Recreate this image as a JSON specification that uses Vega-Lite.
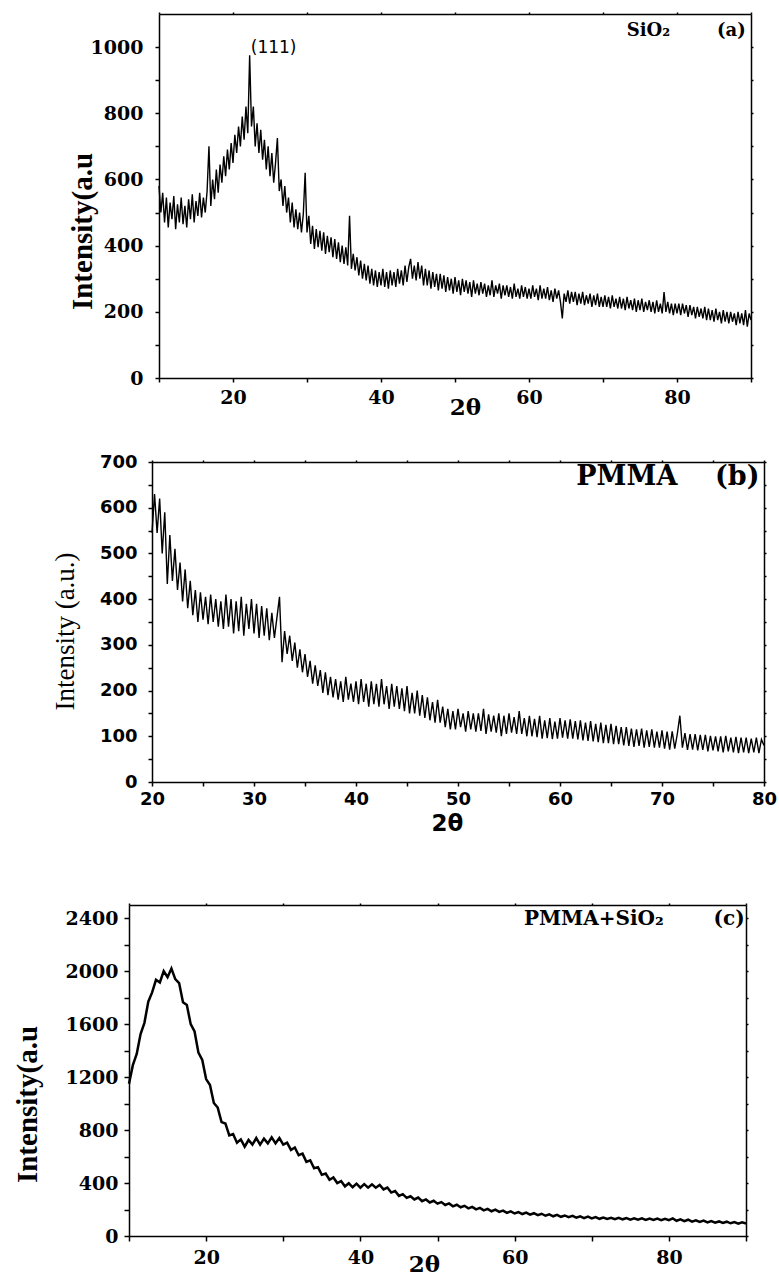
{
"$schema": "https://vega.github.io/schema/vega-lite/v6.json",
"padding": {"left": 0, "top": 11, "right": 0, "bottom": 0},
"background": "white",
"config": {
 "view": {"stroke": null},
 "axis": {"grid": false, "format": "d", "domainColor": "black", "domainWidth": 1.5, "tickColor": "black", "tickWidth": 1.5, "labelColor": "black", "titleColor": "black", "labelFlush": false, "labelOverlap": false, "labelBound": false}
},
"datasets": {
"a": [{"x":10,"y":580},{"x":10.25,"y":500},{"x":10.5,"y":560},{"x":10.75,"y":470},{"x":11,"y":545},{"x":11.25,"y":455},{"x":11.5,"y":530},{"x":11.75,"y":480},{"x":12,"y":550},{"x":12.25,"y":450},{"x":12.5,"y":525},{"x":12.75,"y":470},{"x":13,"y":545},{"x":13.25,"y":465},{"x":13.5,"y":520},{"x":13.75,"y":455},{"x":14,"y":540},{"x":14.25,"y":480},{"x":14.5,"y":555},{"x":14.75,"y":470},{"x":15,"y":535},{"x":15.25,"y":490},{"x":15.5,"y":560},{"x":15.75,"y":485},{"x":16,"y":545},{"x":16.25,"y":500},{"x":16.5,"y":565},{"x":16.75,"y":700},{"x":17,"y":520},{"x":17.25,"y":600},{"x":17.5,"y":540},{"x":17.75,"y":630},{"x":18,"y":560},{"x":18.25,"y":645},{"x":18.5,"y":590},{"x":18.75,"y":670},{"x":19,"y":610},{"x":19.25,"y":690},{"x":19.5,"y":630},{"x":19.75,"y":710},{"x":20,"y":650},{"x":20.25,"y":735},{"x":20.5,"y":680},{"x":20.75,"y":760},{"x":21,"y":700},{"x":21.25,"y":790},{"x":21.5,"y":720},{"x":21.75,"y":820},{"x":22,"y":740},{"x":22.25,"y":975},{"x":22.5,"y":760},{"x":22.75,"y":820},{"x":23,"y":700},{"x":23.25,"y":770},{"x":23.5,"y":680},{"x":23.75,"y":750},{"x":24,"y":660},{"x":24.25,"y":720},{"x":24.5,"y":630},{"x":24.75,"y":700},{"x":25,"y":610},{"x":25.25,"y":680},{"x":25.5,"y":590},{"x":25.75,"y":650},{"x":26,"y":725},{"x":26.25,"y":565},{"x":26.5,"y":600},{"x":26.75,"y":520},{"x":27,"y":580},{"x":27.25,"y":500},{"x":27.5,"y":545},{"x":27.75,"y":470},{"x":28,"y":530},{"x":28.25,"y":455},{"x":28.5,"y":510},{"x":28.75,"y":450},{"x":29,"y":500},{"x":29.25,"y":440},{"x":29.5,"y":495},{"x":29.75,"y":620},{"x":30,"y":440},{"x":30.25,"y":490},{"x":30.5,"y":405},{"x":30.75,"y":460},{"x":31,"y":390},{"x":31.25,"y":450},{"x":31.5,"y":395},{"x":31.75,"y":445},{"x":32,"y":385},{"x":32.25,"y":440},{"x":32.5,"y":375},{"x":32.75,"y":430},{"x":33,"y":380},{"x":33.25,"y":425},{"x":33.5,"y":365},{"x":33.75,"y":420},{"x":34,"y":360},{"x":34.25,"y":410},{"x":34.5,"y":350},{"x":34.75,"y":400},{"x":35,"y":345},{"x":35.25,"y":395},{"x":35.5,"y":340},{"x":35.75,"y":490},{"x":36,"y":330},{"x":36.25,"y":375},{"x":36.5,"y":325},{"x":36.75,"y":365},{"x":37,"y":310},{"x":37.25,"y":355},{"x":37.5,"y":300},{"x":37.75,"y":345},{"x":38,"y":295},{"x":38.25,"y":340},{"x":38.5,"y":285},{"x":38.75,"y":330},{"x":39,"y":280},{"x":39.25,"y":325},{"x":39.5,"y":275},{"x":39.75,"y":320},{"x":40,"y":280},{"x":40.25,"y":330},{"x":40.5,"y":275},{"x":40.75,"y":320},{"x":41,"y":270},{"x":41.25,"y":325},{"x":41.5,"y":280},{"x":41.75,"y":320},{"x":42,"y":275},{"x":42.25,"y":330},{"x":42.5,"y":285},{"x":42.75,"y":325},{"x":43,"y":280},{"x":43.25,"y":340},{"x":43.5,"y":290},{"x":43.75,"y":335},{"x":44,"y":360},{"x":44.25,"y":300},{"x":44.5,"y":340},{"x":44.75,"y":295},{"x":45,"y":350},{"x":45.25,"y":300},{"x":45.5,"y":340},{"x":45.75,"y":280},{"x":46,"y":330},{"x":46.25,"y":280},{"x":46.5,"y":325},{"x":46.75,"y":270},{"x":47,"y":320},{"x":47.25,"y":275},{"x":47.5,"y":315},{"x":47.75,"y":265},{"x":48,"y":315},{"x":48.25,"y":270},{"x":48.5,"y":310},{"x":48.75,"y":260},{"x":49,"y":305},{"x":49.25,"y":265},{"x":49.5,"y":300},{"x":49.75,"y":255},{"x":50,"y":305},{"x":50.25,"y":260},{"x":50.5,"y":295},{"x":50.75,"y":250},{"x":51,"y":300},{"x":51.25,"y":260},{"x":51.5,"y":295},{"x":51.75,"y":255},{"x":52,"y":290},{"x":52.25,"y":245},{"x":52.5,"y":295},{"x":52.75,"y":255},{"x":53,"y":285},{"x":53.25,"y":250},{"x":53.5,"y":290},{"x":53.75,"y":255},{"x":54,"y":285},{"x":54.25,"y":245},{"x":54.5,"y":280},{"x":54.75,"y":250},{"x":55,"y":295},{"x":55.25,"y":245},{"x":55.5,"y":280},{"x":55.75,"y":255},{"x":56,"y":285},{"x":56.25,"y":240},{"x":56.5,"y":280},{"x":56.75,"y":250},{"x":57,"y":280},{"x":57.25,"y":245},{"x":57.5,"y":275},{"x":57.75,"y":240},{"x":58,"y":285},{"x":58.25,"y":245},{"x":58.5,"y":270},{"x":58.75,"y":240},{"x":59,"y":280},{"x":59.25,"y":245},{"x":59.5,"y":275},{"x":59.75,"y":240},{"x":60,"y":270},{"x":60.25,"y":240},{"x":60.5,"y":280},{"x":60.75,"y":245},{"x":61,"y":270},{"x":61.25,"y":235},{"x":61.5,"y":280},{"x":61.75,"y":240},{"x":62,"y":270},{"x":62.25,"y":240},{"x":62.5,"y":275},{"x":62.75,"y":235},{"x":63,"y":265},{"x":63.25,"y":230},{"x":63.5,"y":270},{"x":63.75,"y":240},{"x":64,"y":265},{"x":64.25,"y":230},{"x":64.5,"y":180},{"x":64.75,"y":255},{"x":65,"y":230},{"x":65.25,"y":265},{"x":65.5,"y":225},{"x":65.75,"y":260},{"x":66,"y":230},{"x":66.25,"y":260},{"x":66.5,"y":220},{"x":66.75,"y":255},{"x":67,"y":225},{"x":67.25,"y":260},{"x":67.5,"y":220},{"x":67.75,"y":250},{"x":68,"y":225},{"x":68.25,"y":255},{"x":68.5,"y":215},{"x":68.75,"y":250},{"x":69,"y":220},{"x":69.25,"y":255},{"x":69.5,"y":215},{"x":69.75,"y":245},{"x":70,"y":215},{"x":70.25,"y":250},{"x":70.5,"y":215},{"x":70.75,"y":245},{"x":71,"y":210},{"x":71.25,"y":250},{"x":71.5,"y":215},{"x":71.75,"y":240},{"x":72,"y":210},{"x":72.25,"y":245},{"x":72.5,"y":210},{"x":72.75,"y":240},{"x":73,"y":205},{"x":73.25,"y":245},{"x":73.5,"y":210},{"x":73.75,"y":235},{"x":74,"y":205},{"x":74.25,"y":240},{"x":74.5,"y":200},{"x":74.75,"y":235},{"x":75,"y":205},{"x":75.25,"y":240},{"x":75.5,"y":200},{"x":75.75,"y":230},{"x":76,"y":205},{"x":76.25,"y":235},{"x":76.5,"y":200},{"x":76.75,"y":230},{"x":77,"y":195},{"x":77.25,"y":235},{"x":77.5,"y":200},{"x":77.75,"y":225},{"x":78,"y":195},{"x":78.25,"y":260},{"x":78.5,"y":200},{"x":78.75,"y":230},{"x":79,"y":195},{"x":79.25,"y":225},{"x":79.5,"y":190},{"x":79.75,"y":225},{"x":80,"y":195},{"x":80.25,"y":225},{"x":80.5,"y":190},{"x":80.75,"y":225},{"x":81,"y":195},{"x":81.25,"y":220},{"x":81.5,"y":185},{"x":81.75,"y":220},{"x":82,"y":190},{"x":82.25,"y":215},{"x":82.5,"y":180},{"x":82.75,"y":215},{"x":83,"y":185},{"x":83.25,"y":210},{"x":83.5,"y":180},{"x":83.75,"y":215},{"x":84,"y":175},{"x":84.25,"y":210},{"x":84.5,"y":175},{"x":84.75,"y":205},{"x":85,"y":170},{"x":85.25,"y":210},{"x":85.5,"y":175},{"x":85.75,"y":200},{"x":86,"y":165},{"x":86.25,"y":205},{"x":86.5,"y":170},{"x":86.75,"y":200},{"x":87,"y":165},{"x":87.25,"y":200},{"x":87.5,"y":170},{"x":87.75,"y":195},{"x":88,"y":160},{"x":88.25,"y":200},{"x":88.5,"y":165},{"x":88.75,"y":195},{"x":89,"y":160},{"x":89.25,"y":205},{"x":89.5,"y":155},{"x":89.75,"y":195},{"x":90,"y":175}],
"b": [{"x":20,"y":545},{"x":20.25,"y":630},{"x":20.5,"y":545},{"x":20.75,"y":620},{"x":21,"y":500},{"x":21.25,"y":590},{"x":21.5,"y":433},{"x":21.75,"y":540},{"x":22,"y":440},{"x":22.25,"y":510},{"x":22.5,"y":420},{"x":22.75,"y":480},{"x":23,"y":395},{"x":23.25,"y":465},{"x":23.5,"y":380},{"x":23.75,"y":440},{"x":24,"y":365},{"x":24.25,"y":420},{"x":24.5,"y":350},{"x":24.75,"y":415},{"x":25,"y":355},{"x":25.25,"y":405},{"x":25.5,"y":345},{"x":25.75,"y":410},{"x":26,"y":350},{"x":26.25,"y":400},{"x":26.5,"y":340},{"x":26.75,"y":395},{"x":27,"y":335},{"x":27.25,"y":410},{"x":27.5,"y":340},{"x":27.75,"y":400},{"x":28,"y":325},{"x":28.25,"y":395},{"x":28.5,"y":330},{"x":28.75,"y":405},{"x":29,"y":320},{"x":29.25,"y":390},{"x":29.5,"y":335},{"x":29.75,"y":400},{"x":30,"y":325},{"x":30.25,"y":390},{"x":30.5,"y":315},{"x":30.75,"y":385},{"x":31,"y":320},{"x":31.25,"y":380},{"x":31.5,"y":310},{"x":31.75,"y":370},{"x":32,"y":315},{"x":32.25,"y":360},{"x":32.5,"y":405},{"x":32.75,"y":262},{"x":33,"y":330},{"x":33.25,"y":280},{"x":33.5,"y":320},{"x":33.75,"y":265},{"x":34,"y":305},{"x":34.25,"y":250},{"x":34.5,"y":290},{"x":34.75,"y":240},{"x":35,"y":280},{"x":35.25,"y":230},{"x":35.5,"y":265},{"x":35.75,"y":215},{"x":36,"y":255},{"x":36.25,"y":210},{"x":36.5,"y":245},{"x":36.75,"y":195},{"x":37,"y":240},{"x":37.25,"y":190},{"x":37.5,"y":230},{"x":37.75,"y":185},{"x":38,"y":225},{"x":38.25,"y":180},{"x":38.5,"y":220},{"x":38.75,"y":175},{"x":39,"y":230},{"x":39.25,"y":180},{"x":39.5,"y":215},{"x":39.75,"y":175},{"x":40,"y":220},{"x":40.25,"y":170},{"x":40.5,"y":225},{"x":40.75,"y":175},{"x":41,"y":215},{"x":41.25,"y":165},{"x":41.5,"y":220},{"x":41.75,"y":170},{"x":42,"y":215},{"x":42.25,"y":165},{"x":42.5,"y":225},{"x":42.75,"y":170},{"x":43,"y":210},{"x":43.25,"y":160},{"x":43.5,"y":215},{"x":43.75,"y":165},{"x":44,"y":210},{"x":44.25,"y":160},{"x":44.5,"y":205},{"x":44.75,"y":155},{"x":45,"y":210},{"x":45.25,"y":150},{"x":45.5,"y":195},{"x":45.75,"y":150},{"x":46,"y":200},{"x":46.25,"y":145},{"x":46.5,"y":190},{"x":46.75,"y":140},{"x":47,"y":185},{"x":47.25,"y":135},{"x":47.5,"y":175},{"x":47.75,"y":130},{"x":48,"y":180},{"x":48.25,"y":130},{"x":48.5,"y":165},{"x":48.75,"y":120},{"x":49,"y":160},{"x":49.25,"y":115},{"x":49.5,"y":155},{"x":49.75,"y":115},{"x":50,"y":160},{"x":50.25,"y":120},{"x":50.5,"y":150},{"x":50.75,"y":110},{"x":51,"y":155},{"x":51.25,"y":115},{"x":51.5,"y":150},{"x":51.75,"y":110},{"x":52,"y":150},{"x":52.25,"y":112},{"x":52.5,"y":160},{"x":52.75,"y":105},{"x":53,"y":148},{"x":53.25,"y":110},{"x":53.5,"y":145},{"x":53.75,"y":108},{"x":54,"y":150},{"x":54.25,"y":100},{"x":54.5,"y":145},{"x":54.75,"y":105},{"x":55,"y":150},{"x":55.25,"y":108},{"x":55.5,"y":142},{"x":55.75,"y":105},{"x":56,"y":155},{"x":56.25,"y":105},{"x":56.5,"y":140},{"x":56.75,"y":100},{"x":57,"y":145},{"x":57.25,"y":100},{"x":57.5,"y":138},{"x":57.75,"y":98},{"x":58,"y":145},{"x":58.25,"y":95},{"x":58.5,"y":135},{"x":58.75,"y":96},{"x":59,"y":140},{"x":59.25,"y":94},{"x":59.5,"y":132},{"x":59.75,"y":95},{"x":60,"y":140},{"x":60.25,"y":97},{"x":60.5,"y":135},{"x":60.75,"y":95},{"x":61,"y":137},{"x":61.25,"y":95},{"x":61.5,"y":133},{"x":61.75,"y":93},{"x":62,"y":135},{"x":62.25,"y":91},{"x":62.5,"y":130},{"x":62.75,"y":90},{"x":63,"y":133},{"x":63.25,"y":89},{"x":63.5,"y":127},{"x":63.75,"y":87},{"x":64,"y":130},{"x":64.25,"y":85},{"x":64.5,"y":125},{"x":64.75,"y":85},{"x":65,"y":127},{"x":65.25,"y":83},{"x":65.5,"y":123},{"x":65.75,"y":83},{"x":66,"y":120},{"x":66.25,"y":80},{"x":66.5,"y":120},{"x":66.75,"y":79},{"x":67,"y":117},{"x":67.25,"y":77},{"x":67.5,"y":115},{"x":67.75,"y":79},{"x":68,"y":117},{"x":68.25,"y":75},{"x":68.5,"y":113},{"x":68.75,"y":77},{"x":69,"y":115},{"x":69.25,"y":75},{"x":69.5,"y":110},{"x":69.75,"y":75},{"x":70,"y":113},{"x":70.25,"y":73},{"x":70.5,"y":110},{"x":70.75,"y":71},{"x":71,"y":111},{"x":71.25,"y":73},{"x":71.5,"y":105},{"x":71.75,"y":145},{"x":72,"y":75},{"x":72.25,"y":107},{"x":72.5,"y":70},{"x":72.75,"y":105},{"x":73,"y":71},{"x":73.25,"y":105},{"x":73.5,"y":69},{"x":73.75,"y":103},{"x":74,"y":70},{"x":74.25,"y":103},{"x":74.5,"y":67},{"x":74.75,"y":101},{"x":75,"y":69},{"x":75.25,"y":100},{"x":75.5,"y":67},{"x":75.75,"y":100},{"x":76,"y":65},{"x":76.25,"y":101},{"x":76.5,"y":67},{"x":76.75,"y":97},{"x":77,"y":65},{"x":77.25,"y":99},{"x":77.5,"y":63},{"x":77.75,"y":97},{"x":78,"y":65},{"x":78.25,"y":97},{"x":78.5,"y":63},{"x":78.75,"y":95},{"x":79,"y":65},{"x":79.25,"y":97},{"x":79.5,"y":63},{"x":79.75,"y":93},{"x":80,"y":80}],
"c": [{"x":10,"y":1150},{"x":10.5,"y":1290},{"x":11,"y":1375},{"x":11.5,"y":1525},{"x":12,"y":1610},{"x":12.5,"y":1770},{"x":13,"y":1840},{"x":13.5,"y":1935},{"x":14,"y":1915},{"x":14.5,"y":2000},{"x":15,"y":1955},{"x":15.5,"y":2020},{"x":16,"y":1940},{"x":16.5,"y":1910},{"x":17,"y":1765},{"x":17.5,"y":1745},{"x":18,"y":1600},{"x":18.5,"y":1545},{"x":19,"y":1385},{"x":19.5,"y":1330},{"x":20,"y":1185},{"x":20.5,"y":1140},{"x":21,"y":1005},{"x":21.5,"y":970},{"x":22,"y":860},{"x":22.5,"y":850},{"x":23,"y":760},{"x":23.5,"y":770},{"x":24,"y":705},{"x":24.5,"y":730},{"x":25,"y":675},{"x":25.5,"y":725},{"x":26,"y":690},{"x":26.5,"y":740},{"x":27,"y":690},{"x":27.5,"y":735},{"x":28,"y":700},{"x":28.5,"y":745},{"x":29,"y":700},{"x":29.5,"y":740},{"x":30,"y":690},{"x":30.5,"y":705},{"x":31,"y":650},{"x":31.5,"y":668},{"x":32,"y":610},{"x":32.5,"y":622},{"x":33,"y":560},{"x":33.5,"y":572},{"x":34,"y":512},{"x":34.5,"y":520},{"x":35,"y":462},{"x":35.5,"y":472},{"x":36,"y":425},{"x":36.5,"y":442},{"x":37,"y":400},{"x":37.5,"y":415},{"x":38,"y":375},{"x":38.5,"y":398},{"x":39,"y":368},{"x":39.5,"y":395},{"x":40,"y":365},{"x":40.5,"y":392},{"x":41,"y":365},{"x":41.5,"y":390},{"x":42,"y":365},{"x":42.5,"y":385},{"x":43,"y":352},{"x":43.5,"y":366},{"x":44,"y":328},{"x":44.5,"y":340},{"x":45,"y":303},{"x":45.5,"y":316},{"x":46,"y":288},{"x":46.5,"y":300},{"x":47,"y":276},{"x":47.5,"y":290},{"x":48,"y":263},{"x":48.5,"y":276},{"x":49,"y":253},{"x":49.5,"y":266},{"x":50,"y":244},{"x":50.5,"y":256},{"x":51,"y":234},{"x":51.5,"y":246},{"x":52,"y":224},{"x":52.5,"y":236},{"x":53,"y":217},{"x":53.5,"y":228},{"x":54,"y":209},{"x":54.5,"y":220},{"x":55,"y":201},{"x":55.5,"y":212},{"x":56,"y":194},{"x":56.5,"y":205},{"x":57,"y":187},{"x":57.5,"y":199},{"x":58,"y":182},{"x":58.5,"y":192},{"x":59,"y":175},{"x":59.5,"y":186},{"x":60,"y":170},{"x":60.5,"y":181},{"x":61,"y":166},{"x":61.5,"y":177},{"x":62,"y":161},{"x":62.5,"y":172},{"x":63,"y":157},{"x":63.5,"y":168},{"x":64,"y":153},{"x":64.5,"y":163},{"x":65,"y":149},{"x":65.5,"y":160},{"x":66,"y":145},{"x":66.5,"y":155},{"x":67,"y":142},{"x":67.5,"y":152},{"x":68,"y":139},{"x":68.5,"y":149},{"x":69,"y":135},{"x":69.5,"y":146},{"x":70,"y":133},{"x":70.5,"y":143},{"x":71,"y":130},{"x":71.5,"y":140},{"x":72,"y":129},{"x":72.5,"y":138},{"x":73,"y":127},{"x":73.5,"y":137},{"x":74,"y":126},{"x":74.5,"y":135},{"x":75,"y":124},{"x":75.5,"y":134},{"x":76,"y":123},{"x":76.5,"y":133},{"x":77,"y":122},{"x":77.5,"y":132},{"x":78,"y":121},{"x":78.5,"y":131},{"x":79,"y":120},{"x":79.5,"y":130},{"x":80,"y":119},{"x":80.5,"y":133},{"x":81,"y":115},{"x":81.5,"y":126},{"x":82,"y":112},{"x":82.5,"y":123},{"x":83,"y":109},{"x":83.5,"y":119},{"x":84,"y":106},{"x":84.5,"y":116},{"x":85,"y":103},{"x":85.5,"y":113},{"x":86,"y":101},{"x":86.5,"y":110},{"x":87,"y":98},{"x":87.5,"y":108},{"x":88,"y":96},{"x":88.5,"y":105},{"x":89,"y":93},{"x":89.5,"y":103},{"x":90,"y":95}],
"ta": [{"x":73.2,"y":1050,"t":"SiO₂"},{"x":85.4,"y":1050,"t":"(a)"}],
"tp": [{"x":22.4,"y":997,"t":"(111)"}],
"tb": [{"x":61.6,"y":667,"t":"PMMA"},{"x":75.2,"y":667,"t":"(b)"}],
"tc": [{"x":61.2,"y":2392,"t":"PMMA+SiO₂"},{"x":85.8,"y":2392,"t":"(c)"}]
},
"spacing": 0,
"vconcat": [
 {"hconcat": [
   {"width": 159, "height": 439, "data": {"values": []}, "mark": "point"},
   {"width": 592, "height": 364,
    "resolve": {"axis": {"x": "independent", "y": "independent"}},
    "layer": [
     {"data": {"name": "a"}, "mark": {"type": "line", "color": "black", "strokeWidth": 1.4},
      "encoding": {
       "x": {"field": "x", "type": "quantitative", "scale": {"domain": [10, 90], "nice": false, "zero": false},
        "axis": {"orient": "bottom", "values": [10,20,30,40,50,60,70,80,90], "labelExpr": "datum.value % 20 == 0 ? datum.label : ''", "labelFont": "DejaVu Serif", "labelFontWeight": "bold", "labelFontSize": 19, "labelPadding": 6, "tickSize": 4, "title": "2θ", "titleFont": "DejaVu Serif", "titleFontWeight": "bold", "titleFontSize": 23, "titleX": 306, "titleY": 29, "titleAlign": "center", "titleBaseline": "middle"}},
       "y": {"field": "y", "type": "quantitative", "scale": {"domain": [0, 1100], "nice": false},
        "axis": {"orient": "left", "values": [0,100,200,300,400,500,600,700,800,900,1000], "labelExpr": "datum.value % 200 == 0 ? datum.label : ''", "labelFont": "DejaVu Serif", "labelFontWeight": "bold", "labelFontSize": 19, "labelPadding": 12, "tickSize": 4, "title": "Intensity(a.u", "titleFont": "Liberation Serif, Times New Roman, serif", "titleFontWeight": "bold", "titleFontSize": 29, "titleX": -77, "titleY": 217, "titleAlign": "center", "titleBaseline": "middle"}}
      }},
     {"data": {"name": "ta"}, "mark": {"type": "text", "font": "DejaVu Serif", "fontWeight": "bold", "fontSize": 18, "align": "left", "baseline": "middle", "color": "black"},
      "encoding": {
       "x": {"field": "x", "type": "quantitative", "scale": {"domain": [10, 90], "nice": false, "zero": false},
        "axis": {"orient": "top", "values": [10,20,30,40,50,60,70,80,90], "labels": false, "tickSize": 2, "title": null}},
       "y": {"field": "y", "type": "quantitative", "scale": {"domain": [0, 1100], "nice": false},
        "axis": {"orient": "right", "values": [0,100,200,300,400,500,600,700,800,900,1000], "labels": false, "tickSize": 2, "title": null}},
       "text": {"field": "t"}
      }},
     {"data": {"name": "tp"}, "mark": {"type": "text", "font": "DejaVu Sans", "fontSize": 17, "align": "left", "baseline": "middle", "color": "black"},
      "encoding": {
       "x": {"field": "x", "type": "quantitative", "axis": null},
       "y": {"field": "y", "type": "quantitative", "axis": null},
       "text": {"field": "t"}
      }}
    ]}
  ], "spacing": 0, "bounds": "flush"},
 {"hconcat": [
   {"width": 152, "height": 440, "data": {"values": []}, "mark": "point"},
   {"width": 612, "height": 320,
    "resolve": {"axis": {"x": "independent", "y": "independent"}},
    "layer": [
     {"data": {"name": "b"}, "mark": {"type": "line", "color": "black", "strokeWidth": 1.4},
      "encoding": {
       "x": {"field": "x", "type": "quantitative", "scale": {"domain": [20, 80], "nice": false, "zero": false},
        "axis": {"orient": "bottom", "values": [20,25,30,35,40,45,50,55,60,65,70,75,80], "labelExpr": "datum.value % 10 == 0 ? datum.label : ''", "labelFont": "DejaVu Sans", "labelFontWeight": "bold", "labelFontSize": 18, "labelPadding": 4, "tickSize": 4, "title": "2θ", "titleFont": "DejaVu Sans", "titleFontWeight": "bold", "titleFontSize": 23, "titleX": 295, "titleY": 41, "titleAlign": "center", "titleBaseline": "middle"}},
       "y": {"field": "y", "type": "quantitative", "scale": {"domain": [0, 700], "nice": false},
        "axis": {"orient": "left", "values": [0,50,100,150,200,250,300,350,400,450,500,550,600,650,700], "labelExpr": "datum.value % 100 == 0 ? datum.label : ''", "labelFont": "DejaVu Sans", "labelFontWeight": "bold", "labelFontSize": 18, "labelPadding": 11, "tickSize": 4, "title": "Intensity (a.u.)", "titleFont": "Liberation Serif, Times New Roman, serif", "titleFontWeight": "normal", "titleFontSize": 27, "titleX": -87, "titleY": 169, "titleAlign": "center", "titleBaseline": "middle"}}
      }},
     {"data": {"name": "tb"}, "mark": {"type": "text", "font": "DejaVu Serif", "fontWeight": "bold", "fontSize": 27, "align": "left", "baseline": "middle", "color": "black"},
      "encoding": {
       "x": {"field": "x", "type": "quantitative", "scale": {"domain": [20, 80], "nice": false, "zero": false},
        "axis": {"orient": "top", "values": [20,25,30,35,40,45,50,55,60,65,70,75,80], "labels": false, "tickSize": 2, "title": null}},
       "y": {"field": "y", "type": "quantitative", "scale": {"domain": [0, 700], "nice": false},
        "axis": {"orient": "right", "values": [0,50,100,150,200,250,300,350,400,450,500,550,600,650,700], "labels": false, "tickSize": 2, "title": null}},
       "text": {"field": "t"}
      }}
    ]}
  ], "spacing": 0, "bounds": "flush"},
 {"hconcat": [
   {"width": 129, "height": 331, "data": {"values": []}, "mark": "point"},
   {"width": 617, "height": 331,
    "resolve": {"axis": {"x": "independent", "y": "independent"}},
    "layer": [
     {"data": {"name": "c"}, "mark": {"type": "line", "color": "black", "strokeWidth": 2.5},
      "encoding": {
       "x": {"field": "x", "type": "quantitative", "scale": {"domain": [10, 90], "nice": false, "zero": false},
        "axis": {"orient": "bottom", "values": [10,20,30,40,50,60,70,80,90], "labelExpr": "datum.value % 20 == 0 ? datum.label : ''", "labelFont": "DejaVu Serif", "labelFontWeight": "bold", "labelFontSize": 19, "labelPadding": 7, "tickSize": 5, "title": "2θ", "titleFont": "DejaVu Serif", "titleFontWeight": "bold", "titleFontSize": 23, "titleX": 295, "titleY": 28, "titleAlign": "center", "titleBaseline": "middle"}},
       "y": {"field": "y", "type": "quantitative", "scale": {"domain": [0, 2500], "nice": false},
        "axis": {"orient": "left", "values": [0,200,400,600,800,1000,1200,1400,1600,1800,2000,2200,2400], "labelExpr": "datum.value % 400 == 0 ? datum.label : ''", "labelFont": "DejaVu Serif", "labelFontWeight": "bold", "labelFontSize": 19, "labelPadding": 6, "tickSize": 5, "title": "Intensity(a.u", "titleFont": "Liberation Serif, Times New Roman, serif", "titleFontWeight": "bold", "titleFontSize": 29, "titleX": -102, "titleY": 199, "titleAlign": "center", "titleBaseline": "middle"}}
      }},
     {"data": {"name": "tc"}, "mark": {"type": "text", "font": "DejaVu Serif", "fontWeight": "bold", "fontSize": 20, "align": "left", "baseline": "middle", "color": "black"},
      "encoding": {
       "x": {"field": "x", "type": "quantitative", "scale": {"domain": [10, 90], "nice": false, "zero": false},
        "axis": {"orient": "top", "values": [10,20,30,40,50,60,70,80,90], "labels": false, "tickSize": 2, "title": null}},
       "y": {"field": "y", "type": "quantitative", "scale": {"domain": [0, 2500], "nice": false},
        "axis": {"orient": "right", "values": [0,200,400,600,800,1000,1200,1400,1600,1800,2000,2200,2400], "labels": false, "tickSize": 2, "title": null}},
       "text": {"field": "t"}
      }}
    ]}
  ], "spacing": 0, "bounds": "flush"}
]
}
